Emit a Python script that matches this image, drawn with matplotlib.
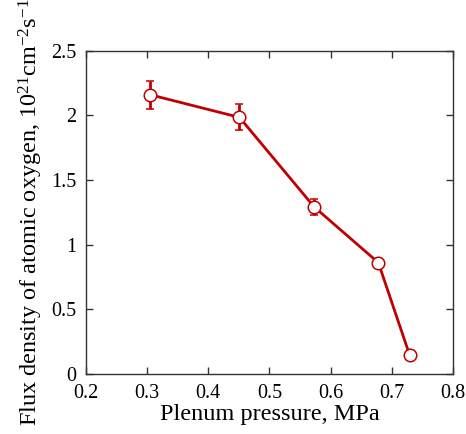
import matplotlib
matplotlib.use("Agg")
import matplotlib.pyplot as plt

plt.rcParams['font.family'] = ['Liberation Serif', 'DejaVu Serif']
plt.rcParams['mathtext.fontset'] = 'custom'
plt.rcParams['mathtext.rm'] = 'Liberation Serif'
plt.rcParams['mathtext.it'] = 'Liberation Serif:italic'

# data
pressure = [0.305, 0.451, 0.573, 0.678, 0.729]
flux = [2.16, 1.985, 1.293, 0.862, 0.150]
flux_err = [0.11, 0.10, 0.062, 0.0, 0.0]

red = '#c00000'

fig = plt.figure(figsize=(4.66, 4.34), dpi=100)
ax = fig.add_axes([0.1845, 0.138, 0.7875, 0.745])

ax.errorbar(pressure, flux, yerr=flux_err, color=red, lw=2.0,
            marker='o', ms=9, mfc='white', mec=red, mew=1.1,
            ecolor=red, elinewidth=2, capsize=3, capthick=2, zorder=3)

ax.set_xlim(0.2, 0.8)
ax.set_ylim(0, 2.5)
ax.set_xticks([0.2, 0.3, 0.4, 0.5, 0.6, 0.7, 0.8])
ax.set_xticklabels(['0.2', '0.3', '0.4', '0.5', '0.6', '0.7', '0.8'])
ax.set_yticks([0, 0.5, 1, 1.5, 2, 2.5])
ax.set_yticklabels(['0', '0.5', '1', '1.5', '2', '2.5'])
ax.tick_params(direction='in', top=True, right=True, length=5, width=1,
               labelsize=14.5, color='#333333')
ax.tick_params(axis='x', pad=7)
ax.tick_params(axis='y', pad=7)
for s in ax.spines.values():
    s.set_color('#333333')
    s.set_linewidth(1)

ax.set_xlabel('Plenum pressure, MPa', fontsize=17.5, labelpad=1)
ax.set_ylabel('Flux density of atomic oxygen, 10$^{21}$cm$^{-2}$s$^{-1}$',
              fontsize=17.5, labelpad=4)

fig.savefig('out.png', dpi=100)
